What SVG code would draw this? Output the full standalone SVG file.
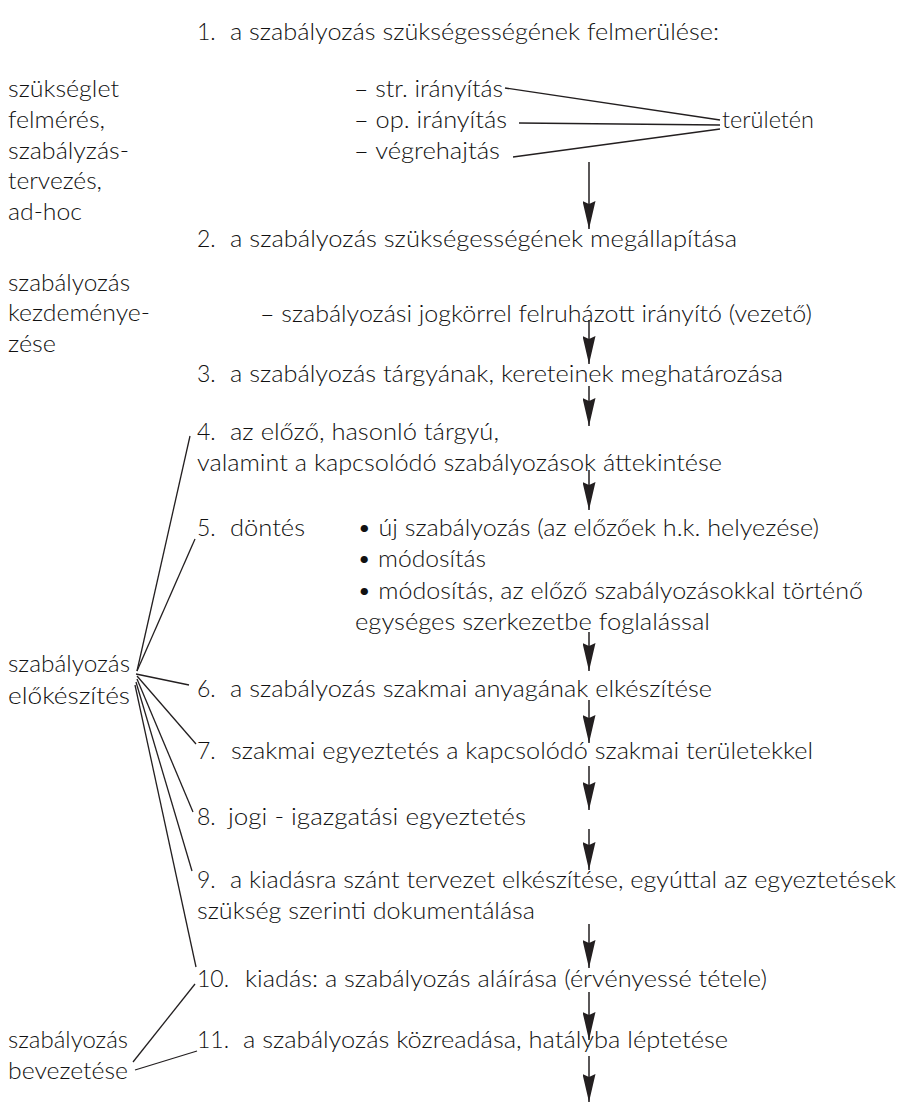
<svg xmlns="http://www.w3.org/2000/svg" width="902" height="1104" viewBox="0 0 902 1104">
<style>
text{font-family:Lato,"Open Sans","Liberation Sans",sans-serif;font-size:23px;font-weight:300;fill:#111}
.ln{stroke:#231f20;stroke-width:1.3;fill:none}
.ar{stroke:#231f20;stroke-width:1.5;fill:none;marker-end:url(#ah)}
</style>
<defs>
<marker id="ah" markerUnits="userSpaceOnUse" viewBox="0 0 28 13" refX="28" refY="6.5" markerWidth="28" markerHeight="13" orient="auto">
<path d="M0,0 L28,6.5 L0,13 L3,6.5 z" fill="#231f20"/>
</marker>
</defs>
<rect width="902" height="1104" fill="#fff"/>

<g id="connectors">
<line class="ln" x1="505" y1="88" x2="720" y2="120"/>
<line class="ln" x1="519" y1="123" x2="720" y2="125"/>
<line class="ln" x1="513" y1="157" x2="720" y2="129"/>
<line class="ln" x1="137" y1="671" x2="190" y2="436"/>
<line class="ln" x1="137" y1="671" x2="195" y2="539"/>
<line class="ln" x1="136" y1="674" x2="189" y2="685"/>
<line class="ln" x1="137" y1="676" x2="196" y2="744"/>
<line class="ln" x1="137" y1="679" x2="193" y2="812"/>
<line class="ln" x1="136" y1="682" x2="192" y2="871"/>
<line class="ln" x1="135" y1="685" x2="196" y2="967"/>
<line class="ln" x1="133" y1="1062" x2="195" y2="984"/>
<line class="ln" x1="135" y1="1070" x2="197" y2="1051"/>
<path class="ar" d="M589,162 V229"/>
<path class="ar" d="M589,320 V364"/>
<path class="ar" d="M589,386 V426"/>
<path class="ar" d="M589,470 V510"/>
<path class="ar" d="M589,632 V671"/>
<path class="ar" d="M589,700 V743"/>
<path class="ar" d="M589,766 V810"/>
<path class="ar" d="M589,829 V870"/>
<path class="ar" d="M589,924 V968"/>
<path class="ar" d="M589,992 V1040"/>
<path class="ar" d="M589,1056 V1102"/>
</g>

<g id="phase-1">
<text x="8" y="97" textLength="111" lengthAdjust="spacingAndGlyphs">szükséglet</text>
<text x="8" y="128" textLength="97" lengthAdjust="spacingAndGlyphs">felmérés,</text>
<text x="8" y="159" textLength="121" lengthAdjust="spacingAndGlyphs">szabályzás-</text>
<text x="8" y="189" textLength="94" lengthAdjust="spacingAndGlyphs">tervezés,</text>
<text x="8" y="220" textLength="74" lengthAdjust="spacingAndGlyphs">ad-hoc</text>
</g>
<g id="phase-2">
<text x="8" y="291" textLength="122" lengthAdjust="spacingAndGlyphs">szabályozás</text>
<text x="8" y="321" textLength="142" lengthAdjust="spacingAndGlyphs">kezdeménye-</text>
<text x="8" y="352" textLength="48" lengthAdjust="spacingAndGlyphs">zése</text>
</g>
<g id="phase-3">
<text x="8" y="672" textLength="122" lengthAdjust="spacingAndGlyphs">szabályozás</text>
<text x="8" y="704" textLength="122" lengthAdjust="spacingAndGlyphs">előkészítés</text>
</g>
<g id="phase-4">
<text x="8" y="1048" textLength="120" lengthAdjust="spacingAndGlyphs">szabályozás</text>
<text x="8" y="1079" textLength="120" lengthAdjust="spacingAndGlyphs">bevezetése</text>
</g>

<g id="step-1">
<text x="197" y="40">1.</text>
<text x="230" y="40" textLength="489" lengthAdjust="spacingAndGlyphs">a szabályozás szükségességének felmerülése:</text>
</g>
<g id="areas">
<text x="354" y="97" textLength="149" lengthAdjust="spacingAndGlyphs">– str. irányítás</text>
<text x="354" y="128" textLength="153" lengthAdjust="spacingAndGlyphs">– op. irányítás</text>
<text x="354" y="159" textLength="146" lengthAdjust="spacingAndGlyphs">– végrehajtás</text>
<text x="722" y="128" textLength="92" lengthAdjust="spacingAndGlyphs">területén</text>
</g>
<g id="step-2">
<text x="197" y="247">2.</text>
<text x="230" y="247" textLength="507" lengthAdjust="spacingAndGlyphs">a szabályozás szükségességének megállapítása</text>
<text x="260" y="322" textLength="552" lengthAdjust="spacingAndGlyphs">– szabályozási jogkörrel felruházott irányító (vezető)</text>
</g>
<g id="step-3">
<text x="197" y="382">3.</text>
<text x="230" y="382" textLength="553" lengthAdjust="spacingAndGlyphs">a szabályozás tárgyának, kereteinek meghatározása</text>
</g>
<g id="step-4">
<text x="197" y="440">4.</text>
<text x="230" y="440" textLength="269" lengthAdjust="spacingAndGlyphs">az előző, hasonló tárgyú,</text>
<text x="197" y="471" textLength="525" lengthAdjust="spacingAndGlyphs">valamint a kapcsolódó szabályozások áttekintése</text>
</g>
<g id="step-5">
<text x="197" y="536">5.</text>
<text x="230" y="536" textLength="75" lengthAdjust="spacingAndGlyphs">döntés</text>
<text x="357" y="536" textLength="462" lengthAdjust="spacingAndGlyphs">• új szabályozás (az előzőek h.k. helyezése)</text>
<text x="357" y="567" textLength="129" lengthAdjust="spacingAndGlyphs">• módosítás</text>
<text x="357" y="599" textLength="506" lengthAdjust="spacingAndGlyphs">• módosítás, az előző szabályozásokkal történő</text>
<text x="355" y="630" textLength="355" lengthAdjust="spacingAndGlyphs">egységes szerkezetbe foglalással</text>
</g>
<g id="step-6">
<text x="197" y="697">6.</text>
<text x="230" y="697" textLength="482" lengthAdjust="spacingAndGlyphs">a szabályozás szakmai anyagának elkészítése</text>
</g>
<g id="step-7">
<text x="197" y="759">7.</text>
<text x="231" y="759" textLength="582" lengthAdjust="spacingAndGlyphs">szakmai egyeztetés a kapcsolódó szakmai területekkel</text>
</g>
<g id="step-8">
<text x="197" y="825">8.</text>
<text x="228" y="825" textLength="298" lengthAdjust="spacingAndGlyphs">jogi - igazgatási egyeztetés</text>
</g>
<g id="step-9">
<text x="197" y="888">9.</text>
<text x="230" y="888" textLength="666" lengthAdjust="spacingAndGlyphs">a kiadásra szánt tervezet elkészítése, egyúttal az egyeztetések</text>
<text x="197" y="919" textLength="338" lengthAdjust="spacingAndGlyphs">szükség szerinti dokumentálása</text>
</g>
<g id="step-10">
<text x="197" y="987">10.</text>
<text x="245" y="987" textLength="522" lengthAdjust="spacingAndGlyphs">kiadás: a szabályozás aláírása (érvényessé tétele)</text>
</g>
<g id="step-11">
<text x="197" y="1048">11.</text>
<text x="243" y="1048" textLength="485" lengthAdjust="spacingAndGlyphs">a szabályozás közreadása, hatályba léptetése</text>
</g>
</svg>
